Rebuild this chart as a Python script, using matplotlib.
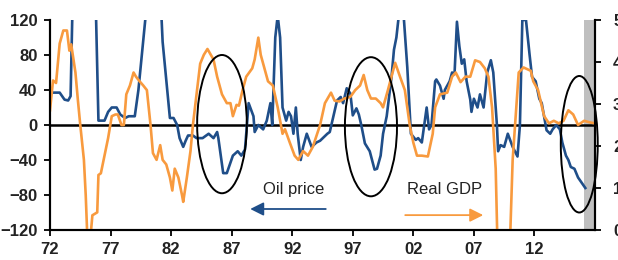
import matplotlib
matplotlib.use("Agg")
import matplotlib.pyplot as plt
from matplotlib.patches import Ellipse
import numpy as np

plt.rcParams['font.family'] = ['Liberation Sans', 'DejaVu Sans']

# oil price, % y/y (left axis)
oil_years = [1972.0, 1972.8, 1973.2, 1973.5, 1973.7, 1973.85, 1974.5, 1975.2, 1975.8,
             1976.0, 1976.5, 1976.8, 1977.1, 1977.5, 1977.8, 1978.2, 1978.5, 1979.0,
             1979.3, 1979.9, 1980.5, 1981.2, 1981.3, 1981.9, 1982.2, 1982.5, 1982.7,
             1983.0, 1983.2, 1983.4, 1983.8, 1984.1, 1984.6, 1985.1, 1985.5, 1985.8,
             1985.9, 1986.3, 1986.6, 1987.1, 1987.5, 1987.8, 1988.1, 1988.4, 1988.8,
             1988.9, 1989.2, 1989.6, 1989.9, 1990.2, 1990.35, 1990.6, 1990.8, 1991.0,
             1991.2, 1991.5, 1991.7, 1991.9, 1992.1, 1992.3, 1992.45, 1992.7, 1992.9,
             1993.2, 1993.6, 1994.0, 1994.3, 1994.9, 1995.1, 1995.4, 1995.7, 1996.0,
             1996.2, 1996.5, 1996.8, 1997.0, 1997.3, 1997.5, 1997.7, 1998.0, 1998.4,
             1998.8, 1999.0, 1999.3, 1999.5, 1999.8, 2000.2, 2000.4, 2000.6, 2000.8,
             2001.0, 2001.2, 2001.5, 2001.8, 2002.2, 2002.4, 2002.7, 2003.1, 2003.3,
             2003.5, 2003.8, 2003.9, 2004.2, 2004.5, 2004.6, 2005.0, 2005.2, 2005.4,
             2005.6, 2005.8, 2006.0, 2006.2, 2006.4, 2006.7, 2006.8, 2007.0, 2007.3,
             2007.5, 2007.8, 2008.1, 2008.4, 2008.6, 2008.9, 2009.0, 2009.2, 2009.5,
             2009.8, 2010.2, 2010.6, 2010.8, 2011.0, 2011.3, 2011.6, 2011.8, 2012.1,
             2012.4, 2012.6, 2013.0, 2013.3, 2013.5, 2013.8, 2014.1, 2014.3, 2014.6,
             2014.8, 2015.0, 2015.3, 2015.6, 2016.2]
oil_values = [37, 37, 29, 28, 33, 130, 300, 250, 125,
              5, 5, 15, 20, 20, 12, 8, 10, 10,
              40, 125, 200, 125, 95, 8, 8, 0, -15,
              -25, -18, -12, -12, -15, -15, -10, -15, -8,
              -15, -55, -55, -35, -30, -35, -28, 25, 10,
              -8, 0, -5, 5, 25, 0, 100, 125, 100,
              20, 5, 15, 10, -10, 20, -10, -40, -25,
              -10, -25, -20, -18, -10, -8, 10, 28, 32,
              25, 42, 36, 11, 19, 12, 0, -21, -30,
              -51, -50, -35, -10, 10, 55, 86, 100, 125,
              150, 125, 66, -10, -17, -15, -20, 20, -5,
              0, 50, 52, 45, 30, 40, 50, 60, 58,
              118, 90, 70, 75, 50, 29, 15, 30, 20,
              35, 20, 60, 74, 60, 0, -30, -23, -25,
              -10, -25, -36, 0, 120, 120, 80, 55, 50,
              30, 25, -6, -10, -5, 0, -5, -20, -35,
              -40, -48, -50, -60, -72]

# real GDP, % y/y (right axis)
gdp_years = [1972.0, 1972.25, 1972.5, 1972.8, 1973.1, 1973.4, 1973.6, 1973.75, 1974.1,
             1974.3, 1974.5, 1974.8, 1974.95, 1975.1, 1975.3, 1975.5, 1975.9, 1976.0,
             1976.2, 1976.5, 1976.8, 1977.1, 1977.4, 1977.6, 1977.9, 1978.1, 1978.3,
             1978.6, 1978.9, 1979.1, 1979.4, 1979.7, 1980.0, 1980.3, 1980.5, 1980.8,
             1981.1, 1981.3, 1981.6, 1981.9, 1982.1, 1982.3, 1982.6, 1982.9, 1983.0,
             1983.3, 1983.6, 1983.8, 1984.1, 1984.4, 1984.7, 1985.0, 1985.5, 1985.8,
             1986.2, 1986.6, 1986.9, 1987.1, 1987.4, 1987.6, 1987.9, 1988.2, 1988.7,
             1988.9, 1989.2, 1989.4, 1989.8, 1990.0, 1990.4, 1990.8, 1991.2, 1991.4,
             1991.8, 1992.2, 1992.5, 1992.9, 1993.3, 1993.7, 1994.3, 1994.7, 1995.2,
             1995.5, 1995.9, 1996.3, 1996.8, 1997.2, 1997.6, 1997.9, 1998.2, 1998.5,
             1998.9, 1999.3, 1999.5, 1999.9, 2000.5, 2000.9, 2001.3, 2001.7, 2002.0,
             2002.3, 2002.7, 2003.2, 2003.6, 2003.8, 2004.2, 2004.8, 2005.2, 2005.5,
             2005.9, 2006.3, 2006.7, 2007.1, 2007.5, 2007.9, 2008.2, 2008.5, 2008.8,
             2009.0, 2009.9, 2010.2, 2010.4, 2010.7, 2011.1, 2011.7, 2011.9, 2012.3,
             2012.8, 2013.2, 2013.6, 2014.0, 2014.4, 2014.8, 2015.2, 2015.6, 2016.1,
             2016.6, 2017.0]
gdp_values = [2.85, 3.56, 3.50, 4.44, 4.75, 4.75, 4.27, 4.42, 3.75,
              3.10, 2.50, 1.67, 0.83, -0.3, -0.3, 0.35, 0.42, 1.31,
              1.35, 1.77, 2.19, 2.71, 2.75, 2.75, 2.50, 2.50, 3.23,
              3.44, 3.75, 3.65, 3.54, 3.44, 3.33, 2.50, 1.83, 1.67,
              2.02, 1.67, 1.56, 1.25, 0.94, 1.46, 1.25, 0.83, 0.67,
              1.25, 1.88, 2.50, 3.23, 3.96, 4.17, 4.31, 4.06, 3.65,
              3.23, 3.02, 3.02, 2.71, 2.98, 2.96, 3.33, 3.65, 3.85,
              4.06, 4.58, 4.17, 3.75, 3.54, 3.44, 2.92, 2.29, 2.40,
              2.08, 1.77, 1.67, 1.88, 1.77, 1.98, 2.50, 3.02, 3.27,
              3.08, 3.06, 3.13, 3.17, 3.33, 3.44, 3.69, 3.33, 3.13,
              3.13, 3.02, 2.92, 3.33, 3.98, 3.65, 3.33, 2.50, 2.08,
              1.77, 1.77, 1.75, 2.29, 2.92, 3.23, 3.27, 3.65, 3.75,
              3.52, 3.65, 3.65, 4.04, 4.00, 3.85, 3.65, 2.92, 1.46,
              -1.0, -1.0, 1.67, 2.50, 3.75, 3.87, 3.79, 3.54, 3.33,
              2.71, 2.54, 2.60, 2.54, 2.60, 2.85, 2.75, 2.50, 2.60,
              2.56, 2.54]

x_ticks = [1972, 1977, 1982, 1987, 1992, 1997, 2002, 2007, 2012]
x_labels = ['72', '77', '82', '87', '92', '97', '02', '07', '12']
left_ticks = [-120, -80, -40, 0, 40, 80, 120]
right_ticks = [0, 1, 2, 3, 4, 5]

blue = '#1F4E89'
orange = '#F89A3E'

fig = plt.figure(figsize=(6.18, 2.6), dpi=100)
ax = fig.add_axes([0.0809, 0.1154, 0.8819, 0.8077])
ax2 = ax.twinx()

ax.axvspan(2016.05, 2017, color='#BFBFBF', lw=0, zorder=0)
ax.axhline(0, color='black', lw=1.8, zorder=1)
ax.plot(oil_years, oil_values, color=blue, lw=1.9, zorder=2)
ax2.plot(gdp_years, gdp_values, color=orange, lw=1.9)

ax.set_xlim(1972, 2017)
ax.set_ylim(-120, 120)
ax2.set_ylim(0, 5)
ax.set_xticks(x_ticks)
ax.set_xticklabels(x_labels)
ax.set_yticks(left_ticks)
ax2.set_yticks(right_ticks)

for a in (ax, ax2):
    a.spines['top'].set_visible(False)
    for s in a.spines.values():
        s.set_linewidth(1.5)
    a.tick_params(length=4, width=1.3, labelsize=12, pad=5)
    for lab in a.get_xticklabels() + a.get_yticklabels():
        lab.set_fontweight('bold')
        lab.set_color('#222222')
ax2.tick_params(axis='y', pad=9)

# circled episodes
for cx, cy, w, h in [(1986.2, 1, 4.1, 158), (1998.5, -2, 4.3, 159), (2015.7, -22, 3.05, 156)]:
    ax2.add_patch(Ellipse((cx, cy), w, h, transform=ax.transData, fill=False,
                          edgecolor='black', lw=1.4, clip_on=False, zorder=5))

ax.text(1989.6, -74, 'Oil price', fontsize=12, va='center', ha='left', color='#222222')
ax.annotate('', xy=(1988.3, -96), xytext=(1995.0, -96),
            arrowprops=dict(arrowstyle='-|>', color=blue, lw=1.3, mutation_scale=20))
ax.text(2001.5, -74, 'Real GDP', fontsize=12, va='center', ha='left', color='#222222')
ax.annotate('', xy=(2008.0, -103), xytext=(2001.1, -103),
            arrowprops=dict(arrowstyle='-|>', color=orange, lw=1.3, mutation_scale=20))

fig.savefig('out.png', dpi=100)
